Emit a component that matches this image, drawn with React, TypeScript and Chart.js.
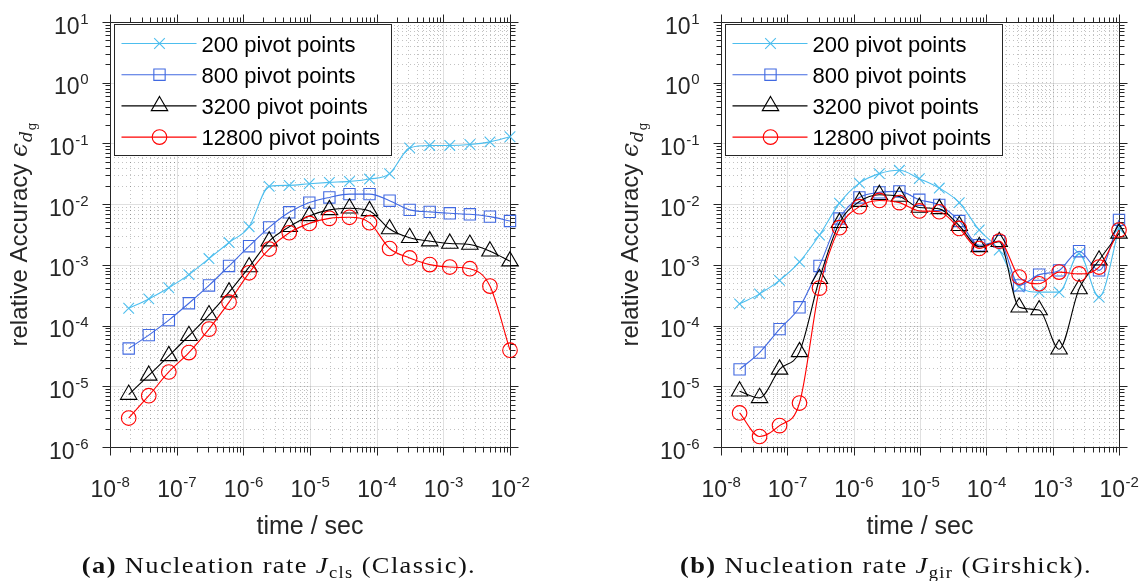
import React, { useEffect, useRef } from "react";
import { Chart, registerables } from "chart.js";
Chart.register(...registerables);

// ---------- data ----------
const times = [
  1.907e-8, 3.815e-8, 7.629e-8, 1.526e-7, 3.052e-7, 6.104e-7, 1.221e-6, 2.441e-6,
  4.883e-6, 9.766e-6, 1.953e-5, 3.906e-5, 7.813e-5, 1.563e-4, 3.125e-4, 6.25e-4,
  1.25e-3, 2.5e-3, 5e-3, 1e-2,
];
const seriesLabels = ["200 pivot points", "800 pivot points", "3200 pivot points", "12800 pivot points"];
const xTickExponents = [-8, -7, -6, -5, -4, -3, -2];
const yTickExponents = [1, 0, -1, -2, -3, -4, -5, -6];

// (a) Classic
const cls200 = [1.93e-4, 2.75e-4, 4.2e-4, 6.9e-4, 1.27e-3, 2.33e-3, 4.25e-3, 1.96e-2, 2.04e-2, 2.17e-2, 2.28e-2, 2.37e-2, 2.59e-2, 3.18e-2, 8.45e-2, 9.26e-2, 9.26e-2, 9.6e-2, 1.06e-1, 1.29e-1];
const cls800 = [4.19e-5, 6.97e-5, 1.23e-4, 2.33e-4, 4.58e-4, 9.6e-4, 2.03e-3, 4.14e-3, 7.34e-3, 1.06e-2, 1.29e-2, 1.46e-2, 1.46e-2, 1.14e-2, 8.05e-3, 7.45e-3, 7.06e-3, 6.8e-3, 6.22e-3, 5.28e-3];
const cls3200 = [7.3e-6, 1.51e-5, 3.17e-5, 6.8e-5, 1.49e-4, 3.55e-4, 9.2e-4, 2.46e-3, 4.25e-3, 6.4e-3, 8.05e-3, 8.56e-3, 7.74e-3, 3.89e-3, 2.79e-3, 2.46e-3, 2.25e-3, 2.16e-3, 1.68e-3, 1.15e-3];
const cls12800 = [3.0e-6, 7.0e-6, 1.72e-5, 3.59e-5, 8.74e-5, 2.43e-4, 7.4e-4, 1.82e-3, 3.38e-3, 4.82e-3, 5.83e-3, 6.07e-3, 4.95e-3, 1.86e-3, 1.3e-3, 1.01e-3, 9.2e-4, 8.65e-4, 4.47e-4, 3.93e-5];

// (b) Girshick
const gir200 = [2.28e-4, 3.33e-4, 5.55e-4, 1.12e-3, 3.1e-3, 1.04e-2, 2.22e-2, 3.18e-2, 3.61e-2, 2.63e-2, 1.84e-2, 1.06e-2, 3.75e-3, 1.75e-3, 4.3e-4, 3.56e-4, 3.56e-4, 1.53e-3, 2.94e-4, 4.0e-3];
const gir800 = [1.9e-5, 3.59e-5, 8.75e-5, 2.0e-4, 9.6e-4, 5.8e-3, 1.29e-2, 1.56e-2, 1.62e-2, 1.18e-2, 9.7e-3, 5.28e-3, 2.1e-3, 2.45e-3, 4.6e-4, 6.9e-4, 8.1e-4, 1.68e-3, 8.1e-4, 5.5e-3];
const gir3200 = [8.3e-6, 6.45e-6, 1.9e-5, 3.69e-5, 5.9e-4, 4.95e-3, 1.1e-2, 1.43e-2, 1.34e-2, 8.8e-3, 8.35e-3, 4.41e-3, 1.98e-3, 2.4e-3, 2.0e-4, 1.8e-4, 4.07e-5, 4.0e-4, 1.19e-3, 3.3e-3];
const gir12800 = [3.64e-6, 1.49e-6, 2.25e-6, 5.3e-6, 4.14e-4, 4.09e-3, 9.1e-3, 1.15e-2, 1.06e-2, 7.74e-3, 7.5e-3, 3.98e-3, 1.86e-3, 2.46e-3, 6.3e-4, 4.88e-4, 7.6e-4, 7.1e-4, 9.2e-4, 3.75e-3];

// ---------- styles ----------
const COLORS = ["#4DBEEE", "#4169E1", "#000000", "#FF0000"];
const POINT_STYLES = ["crossRot", "rect", "triangle", "circle"];
const POINT_RADII = [7.5, 8, 9.5, 7.3];
const AXIS_COLOR = "#262626";
const SANS = '"Liberation Sans", Arial, Helvetica, sans-serif';
const TICK_FONT = 23;
const EXP_FONT = 15;

function buildDatasets(series: number[][]) {
  return series.map((vals, i) => ({
    label: seriesLabels[i],
    data: vals.map((v, k) => ({ x: times[k], y: v })),
    borderColor: COLORS[i],
    backgroundColor: "rgba(0,0,0,0)",
    borderWidth: 1.1,
    pointStyle: POINT_STYLES[i],
    pointRadius: POINT_RADII[i],
    pointBorderWidth: 1.1,
    pointBorderColor: COLORS[i],
    pointBackgroundColor: "rgba(0,0,0,0)",
    cubicInterpolationMode: "monotone",
    fill: false,
    clip: false,
    order: 3 - i,
  }));
}

function drawMarker(ctx: CanvasRenderingContext2D, style: string, x: number, y: number, r: number) {
  ctx.beginPath();
  if (style === "crossRot") {
    const o = Math.cos(Math.PI / 4) * r;
    ctx.moveTo(x - o, y - o); ctx.lineTo(x + o, y + o);
    ctx.moveTo(x + o, y - o); ctx.lineTo(x - o, y + o);
  } else if (style === "rect") {
    const s = Math.SQRT1_2 * r;
    ctx.rect(x - s, y - s, 2 * s, 2 * s);
  } else if (style === "triangle") {
    let rad = 0;
    ctx.moveTo(x + Math.sin(rad) * r, y - Math.cos(rad) * r);
    rad += (2 * Math.PI) / 3;
    ctx.lineTo(x + Math.sin(rad) * r, y - Math.cos(rad) * r);
    rad += (2 * Math.PI) / 3;
    ctx.lineTo(x + Math.sin(rad) * r, y - Math.cos(rad) * r);
    ctx.closePath();
  } else {
    ctx.arc(x, y, r, 0, Math.PI * 2);
  }
  ctx.stroke();
}

function powLabelWidth(ctx: CanvasRenderingContext2D, e: number) {
  ctx.font = `${TICK_FONT}px ${SANS}`;
  const w1 = ctx.measureText("10").width;
  ctx.font = `${EXP_FONT}px ${SANS}`;
  const w2 = ctx.measureText(String(e)).width;
  return [w1, w2];
}

function drawPow(ctx: CanvasRenderingContext2D, e: number, x: number, baseline: number) {
  ctx.font = `${TICK_FONT}px ${SANS}`;
  ctx.fillText("10", x, baseline);
  const w1 = ctx.measureText("10").width;
  ctx.font = `${EXP_FONT}px ${SANS}`;
  ctx.fillText(String(e), x + w1 + 0.5, baseline - 10);
}

const decorPlugin = {
  id: "matlabDecor",
  beforeDatasetsDraw(chart: any) {
    const { ctx, chartArea: a, scales } = chart;
    const xs = scales.x;
    const ys = scales.y;
    ctx.save();
    ctx.fillStyle = "#ffffff";
    ctx.fillRect(a.left, a.top, a.right - a.left, a.bottom - a.top);
    // minor grid
    ctx.lineWidth = 1;
    ctx.strokeStyle = "rgba(0,0,0,0.24)";
    ctx.setLineDash([1, 3]);
    ctx.beginPath();
    for (let e = xTickExponents[0]; e < xTickExponents[xTickExponents.length - 1]; e++) {
      for (let m = 2; m <= 9; m++) {
        const px = Math.round(xs.getPixelForValue(m * Math.pow(10, e))) + 0.5;
        ctx.moveTo(px, a.top); ctx.lineTo(px, a.bottom);
      }
    }
    for (let e = yTickExponents[yTickExponents.length - 1]; e < yTickExponents[0]; e++) {
      for (let m = 2; m <= 9; m++) {
        const py = Math.round(ys.getPixelForValue(m * Math.pow(10, e))) + 0.5;
        ctx.moveTo(a.left, py); ctx.lineTo(a.right, py);
      }
    }
    ctx.stroke();
    // major grid
    ctx.setLineDash([]);
    ctx.strokeStyle = "rgba(0,0,0,0.12)";
    ctx.beginPath();
    xTickExponents.forEach((e) => {
      const px = Math.round(xs.getPixelForValue(Math.pow(10, e))) + 0.5;
      ctx.moveTo(px, a.top); ctx.lineTo(px, a.bottom);
    });
    yTickExponents.forEach((e) => {
      const py = Math.round(ys.getPixelForValue(Math.pow(10, e))) + 0.5;
      ctx.moveTo(a.left, py); ctx.lineTo(a.right, py);
    });
    ctx.stroke();

    // axes box + ticks (outside)
    const L = Math.round(a.left) + 0.5, R = Math.round(a.right) + 0.5;
    const T = Math.round(a.top) + 0.5, B = Math.round(a.bottom) + 0.5;
    ctx.strokeStyle = AXIS_COLOR;
    ctx.lineWidth = 1;
    ctx.beginPath();
    ctx.rect(L, T, R - L, B - T);
    const MAJ = 8, MIN = 5;
    for (let e = xTickExponents[0]; e <= xTickExponents[xTickExponents.length - 1]; e++) {
      for (let m = 1; m <= 9; m++) {
        if (e === xTickExponents[xTickExponents.length - 1] && m > 1) break;
        const len = m === 1 ? MAJ : MIN;
        const px = Math.round(xs.getPixelForValue(m * Math.pow(10, e))) + 0.5;
        ctx.moveTo(px, B); ctx.lineTo(px, B + len);
        ctx.moveTo(px, T); ctx.lineTo(px, T - len);
      }
    }
    for (let e = yTickExponents[yTickExponents.length - 1]; e <= yTickExponents[0]; e++) {
      for (let m = 1; m <= 9; m++) {
        if (e === yTickExponents[0] && m > 1) break;
        const len = m === 1 ? MAJ : MIN;
        const py = Math.round(ys.getPixelForValue(m * Math.pow(10, e))) + 0.5;
        ctx.moveTo(L, py); ctx.lineTo(L - len, py);
        ctx.moveTo(R, py); ctx.lineTo(R + len, py);
      }
    }
    ctx.stroke();
    ctx.restore();
  },
  afterDatasetsDraw(chart: any) {
    const { ctx, chartArea: a, scales } = chart;
    const xs = scales.x;
    const ys = scales.y;
    ctx.save();
    ctx.fillStyle = AXIS_COLOR;
    ctx.textBaseline = "alphabetic";
    ctx.textAlign = "left";
    // x tick labels
    xTickExponents.forEach((e) => {
      const px = xs.getPixelForValue(Math.pow(10, e));
      const [w1, w2] = powLabelWidth(ctx, e);
      drawPow(ctx, e, px - (w1 + w2) / 2, a.bottom + 50);
    });
    // y tick labels
    yTickExponents.forEach((e) => {
      const py = ys.getPixelForValue(Math.pow(10, e));
      const [w1, w2] = powLabelWidth(ctx, e);
      drawPow(ctx, e, a.left - 22 - (w1 + w2), py + 11.5);
    });
    // x title
    ctx.font = `25px ${SANS}`;
    ctx.textAlign = "center";
    ctx.fillText("time / sec", (a.left + a.right) / 2, a.bottom + 87);
    // y title (rotated)
    ctx.textAlign = "left";
    const part1 = "relative Accuracy ";
    ctx.font = `24px ${SANS}`;
    const w1 = ctx.measureText(part1).width;
    ctx.font = `italic 25px "DejaVu Serif", serif`;
    const w2 = ctx.measureText("\u03F5").width;
    ctx.font = `italic 17px "DejaVu Serif", serif`;
    const w3 = ctx.measureText("d").width;
    ctx.font = `12px "DejaVu Serif", serif`;
    const w4 = ctx.measureText("g").width;
    const total = w1 + w2 + w3 + w4 + 2;
    ctx.translate(a.left - 83, (a.top + a.bottom) / 2);
    ctx.rotate(-Math.PI / 2);
    let cx = -total / 2;
    ctx.font = `24px ${SANS}`;
    ctx.fillText(part1, cx, 0);
    cx += w1;
    ctx.font = `italic 25px "DejaVu Serif", serif`;
    ctx.fillText("\u03F5", cx, 0);
    cx += w2 + 1;
    ctx.font = `italic 17px "DejaVu Serif", serif`;
    ctx.fillText("d", cx, 5);
    cx += w3 + 1;
    ctx.font = `12px "DejaVu Serif", serif`;
    ctx.fillText("g", cx, 9);
    ctx.setTransform(1, 0, 0, 1, 0, 0);

    // legend
    const lx = Math.round(a.left) + 4.5;
    const ly = Math.round(a.top) + 2.5;
    const lw = 277, lh = 131;
    ctx.fillStyle = "#ffffff";
    ctx.fillRect(lx, ly, lw, lh);
    ctx.strokeStyle = AXIS_COLOR;
    ctx.lineWidth = 1;
    ctx.strokeRect(lx, ly, lw, lh);
    chart.data.datasets.forEach((ds: any, i: number) => {
      const cy = ly + 19 + i * 31.2;
      ctx.strokeStyle = COLORS[i];
      ctx.lineWidth = 1.1;
      ctx.beginPath();
      ctx.moveTo(lx + 7, cy); ctx.lineTo(lx + 82, cy);
      ctx.stroke();
      ctx.lineWidth = 1.1;
      drawMarker(ctx, POINT_STYLES[i], lx + 45, cy, POINT_RADII[i]);
      ctx.fillStyle = "#000000";
      ctx.font = `22px ${SANS}`;
      ctx.textAlign = "left";
      ctx.fillText(ds.label, lx + 87, cy + 8);
    });
    ctx.restore();
  },
};

function Plot(props: { left: number; width: number; padLeft: number; padRight: number; series: number[][] }) {
  const ref = useRef<HTMLCanvasElement>(null);
  useEffect(() => {
    const chart = new Chart(ref.current!, {
      type: "line",
      data: { datasets: buildDatasets(props.series) as any },
      options: {
        animation: false,
        responsive: false,
        events: [],
        layout: { padding: { left: props.padLeft, right: props.padRight, top: 22, bottom: 134 } },
        plugins: { legend: { display: false }, tooltip: { enabled: false } },
        scales: {
          x: { type: "logarithmic", min: 1e-8, max: 1e-2, display: false },
          y: { type: "logarithmic", min: 1e-6, max: 10, display: false },
        },
      },
      plugins: [decorPlugin],
    });
    return () => chart.destroy();
  }, []);
  return (
    <canvas
      ref={ref}
      width={props.width}
      height={581}
      style={{ position: "absolute", left: props.left, top: 0, width: props.width, height: 581 }}
    />
  );
}

const captionStyle: React.CSSProperties = {
  position: "absolute",
  top: 553,
  transform: "translateX(-50%) scaleX(1.15)",
  transformOrigin: "50% 50%",
  whiteSpace: "nowrap",
  fontFamily: '"Liberation Serif", "Times New Roman", serif',
  fontSize: 23,
  letterSpacing: "1.2px",
  lineHeight: "26px",
  color: "#111",
};
const subStyle: React.CSSProperties = { fontSize: "70%", verticalAlign: "-0.3em", lineHeight: 0, fontStyle: "normal" };

export default function App() {
  return (
    <div style={{ position: "fixed", left: 0, top: 0, width: 1141, height: 581, background: "#fff", overflow: "hidden" }}>
      <Plot left={0} width={570} padLeft={110} padRight={60} series={[cls200, cls800, cls3200, cls12800]} />
      <Plot left={570} width={571} padLeft={151} padRight={22} series={[gir200, gir800, gir3200, gir12800]} />
      <div style={{ ...captionStyle, left: 279 }}>
        <b>(a)</b> Nucleation rate <i>J</i><span style={subStyle}>cls</span> (Classic).
      </div>
      <div style={{ ...captionStyle, left: 886 }}>
        <b>(b)</b> Nucleation rate <i>J</i><span style={subStyle}>gir</span> (Girshick).
      </div>
    </div>
  );
}
